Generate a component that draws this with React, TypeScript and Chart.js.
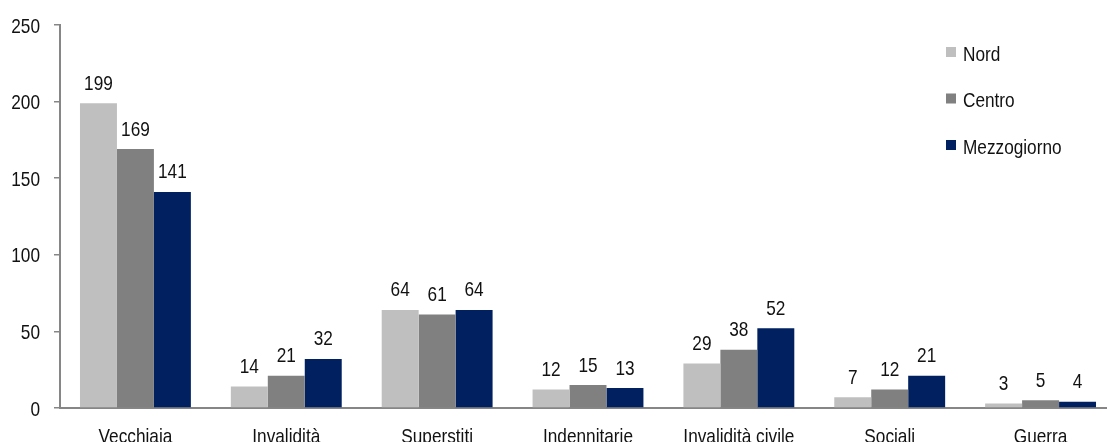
import React, { useEffect, useRef } from "react";
import { Chart, registerables, Plugin } from "chart.js";

Chart.register(...registerables);

const categories = [
  "Vecchiaia",
  "Invalidità",
  "Superstiti",
  "Indennitarie",
  "Invalidità civile",
  "Sociali",
  "Guerra",
];
const seriesNames = ["Nord", "Centro", "Mezzogiorno"];
const nord = [199, 14, 64, 12, 29, 7, 3];
const centro = [169, 21, 61, 15, 38, 12, 5];
const mezzogiorno = [141, 32, 64, 13, 52, 21, 4];
const seriesColors = ["#BFBFBF", "#808080", "#002060"];
const yTicks = [0, 50, 100, 150, 200, 250];

const FONT = "21px 'Liberation Sans', Arial, sans-serif";
const NARROW = 0.82; // horizontal squeeze for a narrow-sans look
const TEXT_COLOR = "#111";
const AXIS_COLOR = "#868686";

function narrowText(
  ctx: CanvasRenderingContext2D,
  text: string,
  x: number,
  y: number,
  align: CanvasTextAlign
) {
  ctx.save();
  ctx.translate(x, y);
  ctx.scale(NARROW, 1);
  ctx.font = FONT;
  ctx.fillStyle = TEXT_COLOR;
  ctx.textAlign = align;
  ctx.textBaseline = "alphabetic";
  ctx.fillText(text, 0, 0);
  ctx.restore();
}

// Axis tick labels placed from the chart's own scales
const axisLabels: Plugin<"bar"> = {
  id: "axisLabels",
  afterDraw(chart) {
    const ctx = chart.ctx;
    const y = chart.scales.y;
    const x = chart.scales.x;
    yTicks.forEach((v) => {
      narrowText(ctx, String(v), y.right - 20, y.getPixelForValue(v) + 7.5, "right");
    });
    categories.forEach((c, i) => {
      narrowText(ctx, c, x.getPixelForTick(i), x.top + 35, "center");
    });
  },
};

// Value labels centred above each bar
const valueLabels: Plugin<"bar"> = {
  id: "valueLabels",
  afterDatasetsDraw(chart) {
    const ctx = chart.ctx;
    chart.data.datasets.forEach((ds, di) => {
      const meta = chart.getDatasetMeta(di);
      meta.data.forEach((el: any, i) => {
        narrowText(ctx, String(ds.data[i]), el.x, el.y - 13.5, "center");
      });
    });
  },
};

// Legend drawn inside the plot, top right
const insideLegend: Plugin<"bar"> = {
  id: "insideLegend",
  afterDraw(chart) {
    const ctx = chart.ctx;
    const x0 = 946;
    const y0 = 52;
    const step = 46.5;
    chart.data.datasets.forEach((ds, i) => {
      const cy = y0 + i * step;
      ctx.save();
      ctx.fillStyle = ds.backgroundColor as string;
      ctx.fillRect(x0, cy - 5, 10, 10);
      ctx.restore();
      narrowText(ctx, String(ds.label), x0 + 17, cy + 8.5, "left");
    });
  },
};

export default function App() {
  const canvasRef = useRef<HTMLCanvasElement | null>(null);

  useEffect(() => {
    if (!canvasRef.current) return;
    const seriesData = [nord, centro, mezzogiorno];
    const chart = new Chart(canvasRef.current, {
      type: "bar",
      data: {
        labels: categories,
        datasets: seriesNames.map((name, i) => ({
          label: name,
          data: seriesData[i],
          backgroundColor: seriesColors[i],
          borderWidth: 0,
          categoryPercentage: 0.735,
          barPercentage: 1,
        })),
      },
      options: {
        responsive: false,
        animation: false,
        devicePixelRatio: 1,
        layout: { padding: { top: 25, right: 0, left: 0, bottom: 0 } },
        plugins: {
          legend: { display: false },
          tooltip: { enabled: false },
        },
        scales: {
          x: {
            grid: { display: true, drawOnChartArea: false, drawTicks: false },
            border: { display: true, color: AXIS_COLOR, width: 2 },
            ticks: { display: false, autoSkip: false },
            afterFit(scale: any) {
              scale.height = 50;
            },
          },
          y: {
            min: 0,
            max: 250,
            afterBuildTicks(scale: any) {
              scale.ticks = yTicks.map((v) => ({ value: v }));
            },
            grid: {
              display: true,
              drawOnChartArea: false,
              drawTicks: true,
              tickLength: 6,
              color: AXIS_COLOR,
              lineWidth: 1.5,
            },
            border: { display: true, color: AXIS_COLOR, width: 2 },
            ticks: { display: false },
            afterFit(scale: any) {
              scale.width = 60;
            },
          },
        },
      },
      plugins: [valueLabels, axisLabels, insideLegend],
    });
    return () => chart.destroy();
  }, []);

  return (
    <div
      style={{
        position: "fixed",
        left: 0,
        top: 0,
        width: 1107,
        height: 442,
        overflow: "hidden",
        background: "#fff",
      }}
    >
      <canvas ref={canvasRef} width={1116} height={458} style={{ display: "block" }} />
    </div>
  );
}
